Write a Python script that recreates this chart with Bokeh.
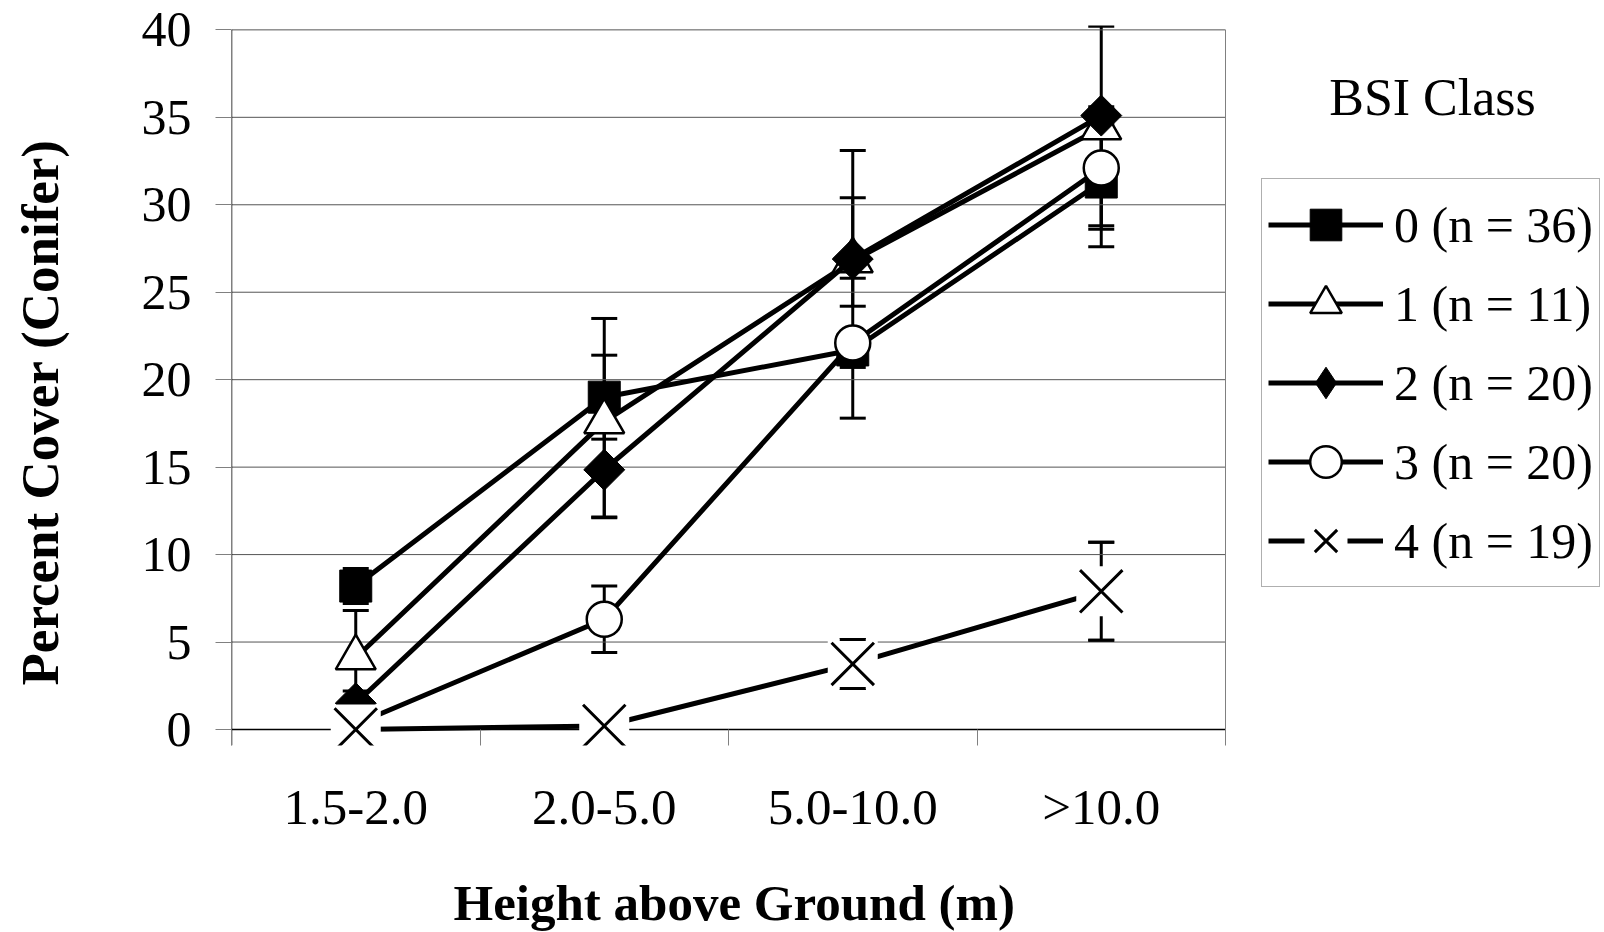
import numpy as np
from bokeh.plotting import figure
from bokeh.models import (Range1d, FixedTicker, Legend, LegendItem, Label, Title,
                          Whisker, TeeHead, ColumnDataSource)
from bokeh.embed import file_html
from bokeh.resources import INLINE

# ---------------- data ----------------
categories = ["1.5-2.0", "2.0-5.0", "5.0-10.0", ">10.0"]
series_labels = ["0 (n = 36)", "1 (n = 11)", "2 (n = 20)", "3 (n = 20)", "4 (n = 19)"]

mean_0 = [8.2, 19.0, 21.7, 31.3]
err_up_0 = [1.0, 2.4, 1.0, 2.5]
err_dn_0 = [1.0, 2.4, 1.0, 2.5]

mean_1 = [4.1, 17.6, 26.8, 34.4]
err_up_1 = [2.7, 5.9, 6.3, 5.8]
err_dn_1 = [2.7, 5.5, 1.0, 5.8]

mean_2 = [1.5, 14.85, 26.9, 35.1]
err_up_2 = [0.7, 2.7, 3.5, 0.5]
err_dn_2 = [0.7, 2.7, 2.7, 0.5]

mean_3 = [0.3, 6.3, 22.1, 32.1]
err_up_3 = [0.3, 1.9, 4.3, 2.0]
err_dn_3 = [0.3, 1.9, 4.3, 4.5]

mean_4 = [0.0, 0.2, 3.75, 7.9]
err_up_4 = [0.0, 0.0, 1.4, 2.8]
err_dn_4 = [0.0, 0.0, 1.4, 2.8]

y_ticks = [0, 5, 10, 15, 20, 25, 30, 35, 40]
legend_title = "BSI Class"
x_title = "Height above Ground (m)"
y_title = "Percent Cover (Conifer)"

# ---------------- layout ----------------
FONT = "Liberation Serif"
W = 1604
LEFT, TOP, BOTTOM_PAD = 231, 25, 187
FRAME_W, FRAME_H = W - LEFT, 720
n_cat = len(categories)
x_pos = list(range(1, n_cat + 1))
x_lo, x_hi = 0.5, n_cat + 0.5
px_per_cat = 248.5
frame_x_end = x_lo + FRAME_W / px_per_cat
y_top = float(y_ticks[-1])
y_lo, y_hi = -0.915, y_top + 0.25

p = figure(frame_width=FRAME_W, frame_height=FRAME_H, output_backend="svg",
           toolbar_location=None,
           x_range=Range1d(x_lo, frame_x_end), y_range=Range1d(y_lo, y_hi),
           min_border_left=LEFT, min_border_right=0,
           min_border_top=TOP, min_border_bottom=BOTTOM_PAD)
p.outline_line_color = None
p.background_fill_color = "white"
p.border_fill_color = "white"
p.xgrid.visible = False
p.ygrid.visible = False

# horizontal gridlines limited to the chart area
grid_y = [t for t in y_ticks if t != 0]
p.segment(x0=[x_lo] * len(grid_y), y0=grid_y, x1=[x_hi] * len(grid_y), y1=grid_y,
          line_color="#555555", line_width=1)
p.segment(x0=[x_lo], y0=[0], x1=[x_hi], y1=[0], line_color="black", line_width=1.3)
# right frame border and left axis line
p.segment(x0=[x_hi], y0=[0], x1=[x_hi], y1=[y_top], line_color="#808080", line_width=1)
p.segment(x0=[x_lo], y0=[y_lo], x1=[x_lo], y1=[y_top], line_color="black", line_width=1.5)

# x axis
p.xaxis.ticker = FixedTicker(ticks=x_pos,
                             minor_ticks=[x - 0.5 for x in x_pos] + [x_hi])
p.xaxis.major_label_overrides = {x: c for x, c in zip(x_pos, categories)}
p.xaxis.axis_line_color = None
p.xaxis.major_tick_line_color = None
p.xaxis.minor_tick_in = 16
p.xaxis.minor_tick_out = 0
p.xaxis.minor_tick_line_color = "#808080"
p.xaxis.major_label_standoff = 27
p.xaxis.major_label_text_font = FONT
p.xaxis.major_label_text_font_size = "51px"
p.xaxis.major_label_text_color = "black"

# y axis
p.yaxis.ticker = FixedTicker(ticks=y_ticks)
p.yaxis.axis_line_color = None
p.yaxis.major_tick_out = 16
p.yaxis.major_tick_in = 0
p.yaxis.major_tick_line_color = "#808080"
p.yaxis.minor_tick_line_color = None
p.yaxis.major_label_standoff = 24
p.yaxis.major_label_text_font = FONT
p.yaxis.major_label_text_font_size = "50px"
p.yaxis.major_label_text_color = "black"

# axis titles as side titles
xt = Title(text=x_title, align="left", offset=222, standoff=70,
           text_font=FONT, text_font_size="51px", text_font_style="bold",
           text_color="black")
p.add_layout(xt, "below")
# empty spacer between the y tick labels and the y title
spacer = Title(text=" ", align="left", standoff=66, text_font=FONT,
               text_font_size="2px", text_color="white")
p.add_layout(spacer, "left")
yt = Title(text=y_title, align="left", offset=60, standoff=0,
           text_font=FONT, text_font_size="53px", text_font_style="bold",
           text_color="black")
p.add_layout(yt, "left")

means = [mean_0, mean_1, mean_2, mean_3, mean_4]
ups = [err_up_0, err_up_1, err_up_2, err_up_3, err_up_4]
dns = [err_dn_0, err_dn_1, err_dn_2, err_dn_3, err_dn_4]


def err_source(m, u, d, only_nonzero=False):
    idx = [i for i in range(len(m)) if (not only_nonzero) or (u[i] > 0 or d[i] > 0)]
    return ColumnDataSource(dict(x=[x_pos[i] for i in idx],
                                 upper=[m[i] + u[i] for i in idx],
                                 lower=[m[i] - d[i] for i in idx]))


# error bars
for m, u, d in zip(means, ups, dns):
    wk = Whisker(base="x", upper="upper", lower="lower", source=err_source(m, u, d),
                 dimension="height", line_color="black", line_width=3,
                 upper_head=TeeHead(size=26, line_width=3, line_color="black"),
                 lower_head=TeeHead(size=26, line_width=3, line_color="black"))
    p.add_layout(wk)

LW = 5
items = []

# series 0 : filled square
l0 = p.line(x_pos, mean_0, line_color="black", line_width=LW)
m0 = p.scatter(x_pos, mean_0, marker="square", size=32, fill_color="black", line_color="black")
items.append(LegendItem(label=series_labels[0], renderers=[l0, m0]))

# series 1 : open triangle
l1 = p.line(x_pos, mean_1, line_color="black", line_width=LW)
m1 = p.scatter(x_pos, mean_1, marker="triangle", size=40, fill_color="white",
               line_color="black", line_width=2.5)
items.append(LegendItem(label=series_labels[1], renderers=[l1, m1]))

# series 2 : filled diamond
l2 = p.line(x_pos, mean_2, line_color="black", line_width=LW)
m2 = p.scatter(x_pos, mean_2, marker="square", angle=np.pi / 4, size=29,
               fill_color="black", line_color="black")
m2_leg = p.scatter(x_pos, mean_2, marker="diamond", fill_color="black", line_color="black",
                   size=30, visible=False)
items.append(LegendItem(label=series_labels[2], renderers=[l2, m2_leg]))

# series 3 : open circle
l3 = p.line(x_pos, mean_3, line_color="black", line_width=LW)
m3 = p.scatter(x_pos, mean_3, marker="circle", size=35, fill_color="white",
               line_color="black", line_width=2.5)
items.append(LegendItem(label=series_labels[3], renderers=[l3, m3]))

# series 4 : x with knocked-out background
l4 = p.line(x_pos, mean_4, line_color="black", line_width=LW)
b4 = p.scatter(x_pos, mean_4, marker="square", size=50, fill_color="white", line_color=None)
m4 = p.scatter(x_pos, mean_4, marker="x", size=60, line_color="black", line_width=3)
l4_leg = p.line(x_pos, mean_4, line_color="black", line_width=LW, line_dash="36 43",
                visible=False)
m4_leg = p.scatter(x_pos, mean_4, marker="x", size=60, line_color="black", line_width=3,
                   visible=False)
items.append(LegendItem(label=series_labels[4], renderers=[l4_leg, m4_leg]))
# caps of series 4 stay visible above the knocked-out box
caps4 = Whisker(base="x", upper="upper", lower="lower",
                source=err_source(mean_4, err_up_4, err_dn_4, only_nonzero=True),
                dimension="height", line_alpha=0, level="overlay",
                upper_head=TeeHead(size=26, line_width=3, line_color="black"),
                lower_head=TeeHead(size=26, line_width=3, line_color="black"))
p.add_layout(caps4)

legend = Legend(items=items, location=(1030, 158), orientation="vertical",
                glyph_width=115, glyph_height=79, label_height=79,
                spacing=0, padding=6, margin=0, label_standoff=11,
                label_text_font=FONT, label_text_font_size="50px",
                label_text_color="black",
                inactive_fill_alpha=0.0,
                border_line_color="#606060", border_line_width=1,
                background_fill_color="white", background_fill_alpha=1.0)
p.add_layout(legend)

title_lbl = Label(x=5.333, y=36.16, text=legend_title, text_align="center",
                  text_baseline="middle", text_font=FONT, text_font_size="52px",
                  text_color="black")
p.add_layout(title_lbl)

html = file_html(p, INLINE)
html = html.replace("<head>", "<head><style>html, body {overflow: hidden;}</style>", 1)
open("out.html", "w").write(html)
